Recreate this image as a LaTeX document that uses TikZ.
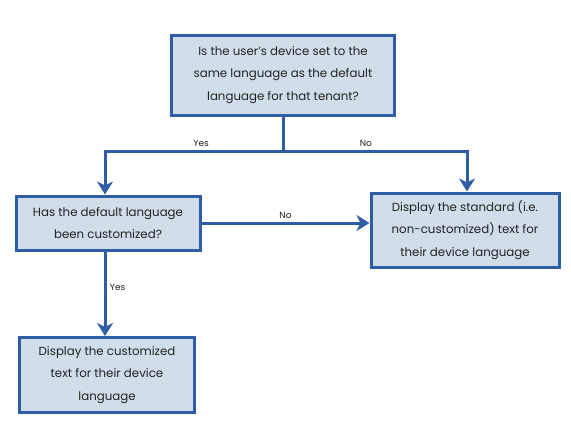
\documentclass[tikz,border=0pt]{standalone}
\usepackage{fontspec}
\setmainfont{Poppins}
\usetikzlibrary{positioning,arrows.meta}
\definecolor{boxblue}{HTML}{2F5DA6}
\definecolor{boxfill}{HTML}{D1DEEA}
\definecolor{textgrey}{HTML}{222222}
\tikzset{
	decision/.style={draw=boxblue, fill=boxfill, line width=3pt,
			text=textgrey, align=center, inner sep=0pt,
			font=\fontsize{11.8}{22.5}\selectfont},
	flow/.style={draw=boxblue, line width=3pt,
			-{Stealth[length=13pt,width=16pt,inset=4pt]}},
	answer/.style={text=textgrey, font=\fontsize{9}{10}\selectfont}
}

\begin{document}
\begin{tikzpicture}[x=1pt,y=-1pt]
		\useasboundingbox (0,0) rectangle (571,445);

		% Question about device language
		\node[decision,
			minimum width=223pt,
			minimum height=80pt
		] (q1) at (283,75) {Is the user's device set to the\\same language as the default\\language for that tenant?};

		% Question about customization
		\node[decision,
			minimum width=184pt,
			minimum height=54pt
		] (q2) at (108,223) {Has the default language\\been customized?};

		% Standard text
		\node[decision,
			minimum width=188pt,
			minimum height=74pt
		] (std) at (465,230) {Display the standard (i.e.\\non-customized) text for\\their device language};

		% Customized text
		\node[decision,
			minimum width=175pt,
			minimum height=75pt
		] (cust) at (107,375) {Display the customized\\text for their device\\language};

		% Split below the first question
		\draw[draw=boxblue, line width=3pt] (q1.south) -- ++(0,35)
		coordinate (fork);

		\draw[flow] (fork) -| ([xshift=-3pt]q2.north)
		node[pos=0.23, above, answer]{Yes};

		\draw[flow] (fork) -| ([xshift=2pt]std.north)
		node[pos=0.225, above, answer]{No};

		% Arrows out of the second question
		\draw[flow] (q2.east) -- (std.west |- q2.east)
		node[midway, above, answer]{No};

		\draw[flow] ([xshift=-3pt]q2.south) -- ([xshift=-2pt]cust.north)
		node[pos=0.42, right, answer]{Yes};
	\end{tikzpicture}
\end{document}
